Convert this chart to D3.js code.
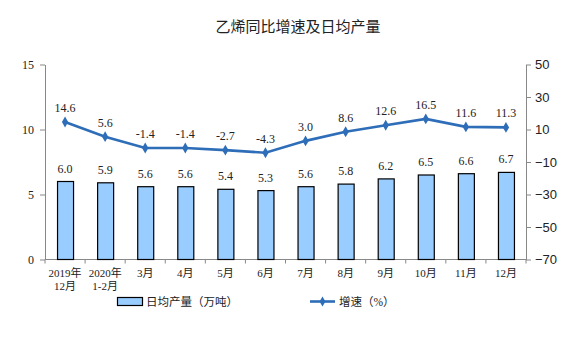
<!DOCTYPE html>
<html><head><meta charset="utf-8">
<script src="https://cdn.jsdelivr.net/npm/d3@7/dist/d3.min.js"></script>
<style>
body{margin:0;background:#fff;}
svg{display:block;}
</style></head>
<body><svg id="c" width="576" height="338"></svg>
<script>
// Monthly ethylene output data
const categories = [["2019年","12月"],["2020年","1-2月"],["3月"],["4月"],["5月"],["6月"],["7月"],["8月"],["9月"],["10月"],["11月"],["12月"]];
const dailyOutput = [6.0,5.9,5.6,5.6,5.4,5.3,5.6,5.8,6.2,6.5,6.6,6.7];
const growthRate = [14.6,5.6,-1.4,-1.4,-2.7,-4.3,3.0,8.6,12.6,16.5,11.6,11.3];
const leftTicks = [0,5,10,15];
const rightTicks = [-70,-50,-30,-10,10,30,50];

const svg = d3.select("#c");
const serif = "'Liberation Serif','Times New Roman','Noto Sans CJK SC',serif";
const sans = "'Noto Sans CJK SC','Noto Sans',sans-serif";
const x0 = 45, x1 = 526, yTop = 64.5, yBot = 259.5;

const x = d3.scaleBand().domain(d3.range(categories.length)).range([x0, x1]);
const yL = d3.scaleLinear().domain([0,15]).range([yBot, yTop]);
const yR = d3.scaleLinear().domain([-70,50]).range([yBot, yTop]);

// title
svg.append("text").attr("x", 298).attr("y", 32).attr("text-anchor","middle")
  .attr("font-family", sans).attr("font-size", 15).attr("fill","#222").text("乙烯同比增速及日均产量");

// left axis
const gL = svg.append("g").attr("transform",`translate(${x0},0)`)
  .call(d3.axisLeft(yL).tickValues(leftTicks).tickSize(5).tickSizeOuter(0).tickPadding(6));
gL.select(".domain").attr("stroke","#888");
gL.selectAll(".tick line").attr("stroke","#888");
gL.selectAll("text").attr("font-family", serif).attr("font-size", 12).attr("fill","#222");

// right axis
const gR = svg.append("g").attr("transform",`translate(${x1},0)`)
  .call(d3.axisRight(yR).tickValues(rightTicks).tickSize(5).tickSizeOuter(0).tickPadding(4));
gR.select(".domain").attr("stroke","#888");
gR.selectAll(".tick line").attr("stroke","#888");
gR.selectAll("text").attr("font-family","'Liberation Sans',Arial,sans-serif").attr("font-size", 13).attr("fill","#222");

// bottom axis with ticks at category boundaries
svg.append("line").attr("x1",x0).attr("x2",x1).attr("y1",yBot).attr("y2",yBot).attr("stroke","#888");
svg.append("g").selectAll("line").data(d3.range(categories.length+1)).join("line")
  .attr("x1", i => x0 + i*x.step()).attr("x2", i => x0 + i*x.step())
  .attr("y1", yBot).attr("y2", yBot+4).attr("stroke","#888");

// category labels
const lab = svg.append("g").selectAll("text").data(categories).join("text")
  .attr("text-anchor","middle").attr("font-family", serif).attr("font-size", 11).attr("fill","#222")
  .attr("transform",(d,i)=>`translate(${x(i)+x.bandwidth()/2},${yBot+17})`);
lab.selectAll("tspan").data(d=>d).join("tspan").attr("x",0).attr("dy",(d,j)=>j?13:0).text(d=>d);

// bars
const bw = 16;
svg.append("g").selectAll("rect").data(dailyOutput).join("rect")
  .attr("x",(d,i)=>x(i)+x.bandwidth()/2-bw/2+0.5).attr("width",bw)
  .attr("y",d=>yL(d)).attr("height",d=>yBot-yL(d))
  .attr("fill","#99ccff").attr("stroke","#000").attr("stroke-width",1.2);

svg.append("g").selectAll("text").data(dailyOutput).join("text")
  .attr("x",(d,i)=>x(i)+x.bandwidth()/2).attr("y",d=>yL(d)-9)
  .attr("text-anchor","middle").attr("font-family",serif).attr("font-size",12).attr("fill","#222")
  .text(d=>d.toFixed(1));

// growth line
const line = d3.line().x((d,i)=>x(i)+x.bandwidth()/2).y(d=>yR(d));
svg.append("path").datum(growthRate).attr("d",line).attr("fill","none")
  .attr("stroke","#2e6db8").attr("stroke-width",2.6);
svg.append("g").selectAll("path").data(growthRate).join("path")
  .attr("d", d3.symbol(d3.symbolDiamond, 34))
  .attr("transform",(d,i)=>`translate(${x(i)+x.bandwidth()/2},${yR(d)})`).attr("fill","#2e6db8");
svg.append("g").selectAll("text").data(growthRate).join("text")
  .attr("x",(d,i)=>x(i)+x.bandwidth()/2).attr("y",d=>yR(d)-10)
  .attr("text-anchor","middle").attr("font-family",serif).attr("font-size",12).attr("fill","#222")
  .text(d=>d.toFixed(1));

// legend
svg.append("rect").attr("x",117.5).attr("y",297.5).attr("width",25).attr("height",8)
  .attr("fill","#99ccff").attr("stroke","#000").attr("stroke-width",1.2);
svg.append("text").attr("x",146).attr("y",306).attr("font-family",serif).attr("font-size",11.5).attr("fill","#222").text("日均产量（万吨）");
svg.append("line").attr("x1",310).attr("x2",335).attr("y1",301.5).attr("y2",301.5).attr("stroke","#2e6db8").attr("stroke-width",2.6);
svg.append("path").attr("d",d3.symbol(d3.symbolDiamond,30)).attr("transform","translate(322.5,301.5)").attr("fill","#2e6db8");
svg.append("text").attr("x",339).attr("y",306).attr("font-family",serif).attr("font-size",11.5).attr("fill","#222").text("增速（%）");
</script></body></html>
